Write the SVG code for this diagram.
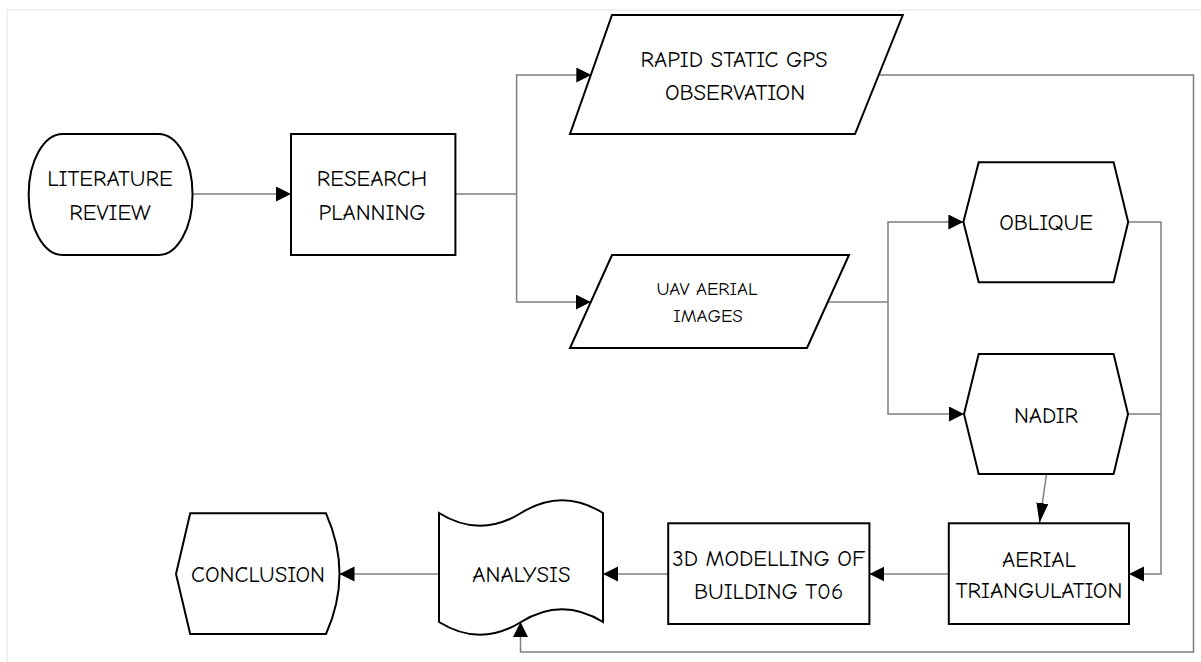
<svg xmlns="http://www.w3.org/2000/svg" width="1201" height="662" viewBox="0 0 1201 662">
<style>
.node{fill:#fff;stroke:#000;stroke-width:2;stroke-linejoin:miter}
.lbl{font-family:"Comic Sans MS","Comic Neue","Liberation Sans",sans-serif;font-size:22.7px;fill:#000;text-anchor:middle}
.sm{font-size:18.9px}
.con{fill:none;stroke:#7f7f7f;stroke-width:1.5}
</style>
<defs>
<marker id="ah" markerWidth="16" markerHeight="16" refX="15" refY="7.5" orient="auto" markerUnits="userSpaceOnUse"><path d="M0,0 L15,7.5 L0,15 Z" fill="#000"/></marker>
<marker id="ah2" markerWidth="22" markerHeight="14" refX="20" refY="6" orient="auto" markerUnits="userSpaceOnUse"><path d="M0,0 L20,6 L0,12 Z" fill="#000"/></marker>
</defs>
<rect width="1201" height="662" fill="#fff"/>
<path d="M7,662 L7,10 L1201,10" fill="none" stroke="#f0f0f0" stroke-width="2"/>

<g id="connectors">
<path class="con" d="M192.5,194 L291,194" marker-end="url(#ah)"/>
<path class="con" d="M455.4,194 L516.6,194"/>
<path class="con" d="M516.6,194 L516.6,75 L591.3,75" marker-end="url(#ah)"/>
<path class="con" d="M516.6,194 L516.6,302 L590.8,302" marker-end="url(#ah)"/>
<path class="con" d="M828,302 L888,302"/>
<path class="con" d="M888,302 L888,222 L963.4,222" marker-end="url(#ah)"/>
<path class="con" d="M888,302 L888,414 L964,414" marker-end="url(#ah)"/>
<path class="con" d="M1128.2,222 L1161,222 L1161,574 L1129,574" marker-end="url(#ah)"/>
<path class="con" d="M1128,414 L1161,414"/>
<path class="con" d="M1046.5,474 L1039.5,523" marker-end="url(#ah2)"/>
<path class="con" d="M948.8,574 L869.4,574" marker-end="url(#ah)"/>
<path class="con" d="M668.2,574 L603,574" marker-end="url(#ah)"/>
<path class="con" d="M439,574 L339.5,574" marker-end="url(#ah)"/>
<path class="con" d="M879.5,75 L1193.5,75 L1193.5,652 L520.5,652 L520.5,622" marker-end="url(#ah)"/>
</g>

<g id="literature-review">
<rect class="node" x="28.7" y="134" width="163.8" height="121" rx="34" ry="60"/>
<text class="lbl" x="110" y="186">LITERATURE</text>
<text class="lbl" x="110" y="220">REVIEW</text>
</g>

<g id="research-planning">
<rect class="node" x="291" y="134" width="164.4" height="121"/>
<text class="lbl" x="372" y="186">RESEARCH</text>
<text class="lbl" x="372" y="220">PLANNING</text>
</g>

<g id="gps">
<path class="node" d="M612,15 L902.8,15 L855,134 L570,134 Z"/>
<text class="lbl" x="734" y="67">RAPID STATIC GPS</text>
<text class="lbl" x="735" y="100">OBSERVATION</text>
</g>

<g id="uav">
<path class="node" d="M612,255 L849,255 L807,348 L570,348 Z"/>
<text class="lbl sm" x="707" y="295">UAV AERIAL</text>
<text class="lbl sm" x="708" y="322">IMAGES</text>
</g>

<g id="oblique">
<path class="node" d="M978.7,162.3 L1113.6,162.3 L1128.2,222 L1113.6,282.3 L978.7,282.3 L963.4,222 Z"/>
<text class="lbl" x="1046" y="230">OBLIQUE</text>
</g>

<g id="nadir">
<path class="node" d="M978.7,354 L1113.6,354 L1128,414 L1113.6,474 L978.7,474 L964,414 Z"/>
<text class="lbl" x="1046" y="423">NADIR</text>
</g>

<g id="aerial-triangulation">
<rect class="node" x="948.8" y="523.3" width="180.2" height="100.7"/>
<text class="lbl" x="1039" y="567">AERIAL</text>
<text class="lbl" x="1039" y="598">TRIANGULATION</text>
</g>

<g id="modelling">
<rect class="node" x="668.2" y="523.3" width="201.2" height="100.7"/>
<text class="lbl" x="768.6" y="566">3D MODELLING OF</text>
<text class="lbl" x="768.6" y="599">BUILDING T06</text>
</g>

<g id="analysis">
<path class="node" d="M439,513 C466.3,530 493.7,530 521,513 C548.3,496 575.7,496 603,513 L603,622 C575.7,605 548.3,605 521,622 C493.7,639 466.3,639 439,622 Z"/>
<text class="lbl" x="521.4" y="582">ANALYSIS</text>
</g>

<g id="conclusion">
<path class="node" d="M190.2,513.3 L326,513.3 Q353,574 326,634 L190.2,634 L176,574 Z"/>
<text class="lbl" x="258" y="582">CONCLUSION</text>
</g>
</svg>
